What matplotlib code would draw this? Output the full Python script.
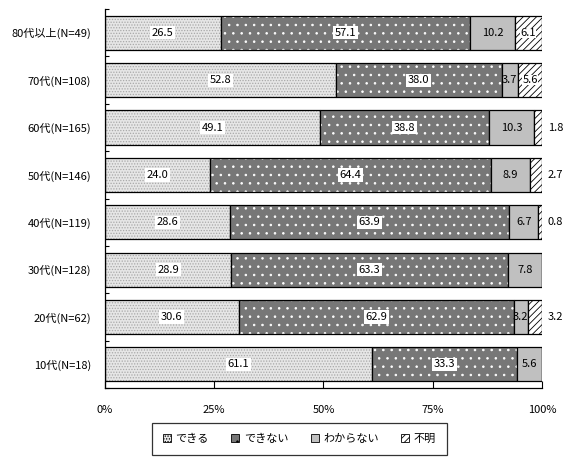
import matplotlib
matplotlib.use("Agg")
import matplotlib.pyplot as plt
import numpy as np
from matplotlib.patches import Patch

plt.rcParams['font.family'] = ['Noto Sans CJK JP', 'DejaVu Sans']
plt.rcParams['hatch.linewidth'] = 0.6

categories = ["80代以上(N=49)", "70代(N=108)", "60代(N=165)", "50代(N=146)",
              "40代(N=119)", "30代(N=128)", "20代(N=62)", "10代(N=18)"]
series_names = ["できる", "できない", "わからない", "不明"]
can = [26.5, 52.8, 49.1, 24.0, 28.6, 28.9, 30.6, 61.1]
cannot = [57.1, 38.0, 38.8, 64.4, 63.9, 63.3, 62.9, 33.3]
unknown = [10.2, 3.7, 10.3, 8.9, 6.7, 7.8, 3.2, 5.6]
no_answer = [6.1, 5.6, 1.8, 2.7, 0.8, 0.0, 3.2, 0.0]
xticks = [0, 25, 50, 75, 100]
xtick_labels = ["0%", "25%", "50%", "75%", "100%"]

series = [can, cannot, unknown, no_answer]
styles = [
    dict(face="#e6e6e6", hatch_color="#a8a8a8", hatch="......"),
    dict(face="#777777", hatch_color="#ffffff", hatch=".."),
    dict(face="#c0c0c0", hatch_color="#c0c0c0", hatch=None),
    dict(face="#ffffff", hatch_color="#000000", hatch="/////"),
]

fig = plt.figure(figsize=(5.66, 4.57), dpi=100)
ax = fig.add_axes([0.1855, 0.151, 0.772, 0.829])

y = np.arange(len(categories))
height = 0.72
left = np.zeros(len(categories))
for vals, st in zip(series, styles):
    vals = np.array(vals)
    ax.barh(y, vals, height, left=left, color=st["face"], edgecolor=st["hatch_color"],
            hatch=st["hatch"], linewidth=0)
    ax.barh(y, vals, height, left=left, fill=False, edgecolor="black", linewidth=0.9)
    left = left + vals

# value labels
label_kw = dict(ha="center", va="center", fontsize=8, color="black")
box = dict(boxstyle="square,pad=0.15", facecolor="white", edgecolor="none")
left = np.zeros(len(categories))
for si, vals in enumerate(series):
    for i, v in enumerate(vals):
        if v <= 0:
            continue
        cx = left[i] + v / 2
        if si in (0, 1):
            ax.text(cx, y[i], f"{v:.1f}", bbox=box, **label_kw)
        elif si == 2:
            ax.text(cx, y[i], f"{v:.1f}", **label_kw)
        else:
            if v >= 5:
                ax.text(cx, y[i], f"{v:.1f}",
                        bbox=dict(boxstyle="square,pad=0.0", facecolor="white", edgecolor="none"),
                        **label_kw)
            else:
                ax.text(left[i] + v + 1.3, y[i], f"{v:.1f}", ha="left", va="center",
                        fontsize=8, color="black")
    left = left + np.array(vals)

ax.set_xlim(0, 100)
ax.set_ylim(len(categories) - 0.5, -0.5)
ax.set_yticks(y)
ax.set_yticklabels(categories, fontsize=8)
ax.tick_params(axis="y", which="major", length=0, pad=10)
ax.set_yticks(np.arange(-0.5, len(categories), 1.0), minor=True)
ax.tick_params(axis="y", which="minor", direction="in", length=3, width=0.8)
ax.set_xticks(xticks)
ax.set_xticklabels(xtick_labels, fontsize=8)
ax.tick_params(axis="x", direction="in", length=5, width=0.8, pad=12)

for s in ("top", "right"):
    ax.spines[s].set_visible(False)
for s in ("left", "bottom"):
    ax.spines[s].set_linewidth(0.9)

handles = [Patch(facecolor=st["face"], edgecolor="black", hatch=st["hatch"], linewidth=0.6)
           for st in styles]
leg = fig.legend(handles, series_names, loc="upper center", bbox_to_anchor=(0.529, 0.0745),
                 ncol=4, fontsize=8, frameon=True, fancybox=False, edgecolor="black",
                 handlelength=0.75, handleheight=0.75, handletextpad=0.4, columnspacing=2.0,
                 borderpad=1.0, borderaxespad=0)
leg.get_frame().set_linewidth(0.9)

fig.savefig("out.png", dpi=100, facecolor="white")
